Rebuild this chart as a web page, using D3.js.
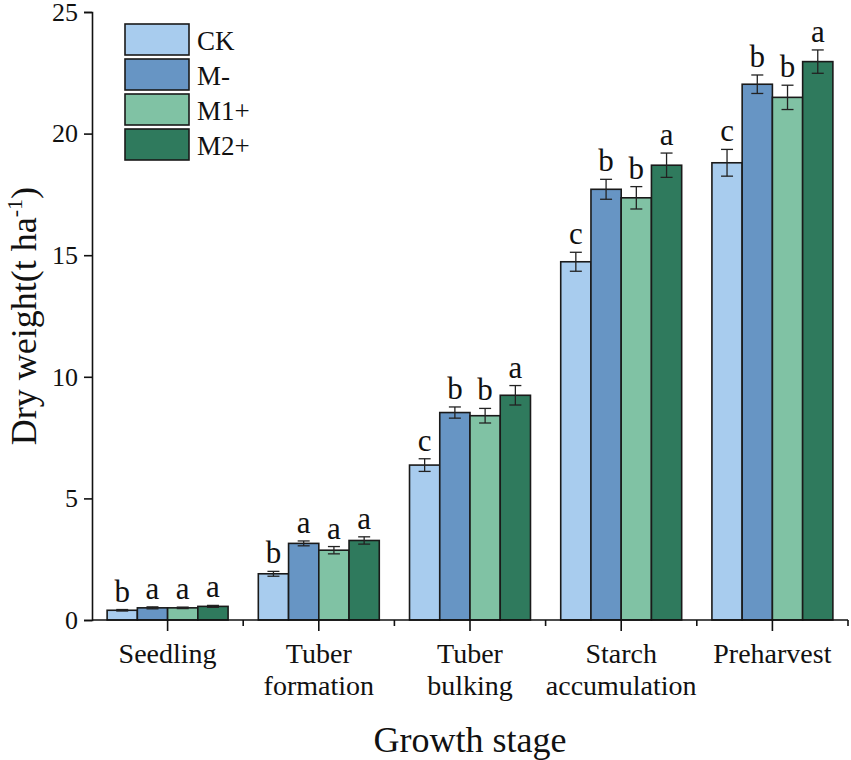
<!DOCTYPE html>
<html>
<head>
<meta charset="utf-8">
<script src="https://cdn.jsdelivr.net/npm/d3@7/dist/d3.min.js"></script>
<style>
  body { margin: 0; background: #fff; }
  text { font-family: "Liberation Serif", "Times New Roman", serif; fill: #111; }
</style>
</head>
<body>
<div id="chart"></div>
<script>
// growth stages (two-line labels)
const stages = ['Seedling', 'Tuber formation', 'Tuber bulking', 'Starch accumulation', 'Preharvest'];
const stageLines = [['Seedling'], ['Tuber', 'formation'], ['Tuber', 'bulking'], ['Starch', 'accumulation'], ['Preharvest']];
const treatments = ['CK', 'M-', 'M1+', 'M2+'];
const colors = ['#a8ccee', '#6795c4', '#80c2a4', '#2f7a5d'];

// dry weight (t/ha) per treatment, one value per stage
const ckValues = [0.40, 1.90, 6.37, 14.73, 18.80];
const mMinusValues = [0.50, 3.15, 8.53, 17.71, 22.03];
const m1Values = [0.50, 2.87, 8.40, 17.36, 21.49];
const m2Values = [0.56, 3.27, 9.24, 18.70, 22.96];

const ckErr = [0.03, 0.10, 0.26, 0.39, 0.55];
const mMinusErr = [0.04, 0.10, 0.23, 0.41, 0.38];
const m1Err = [0.03, 0.15, 0.30, 0.46, 0.50];
const m2Err = [0.04, 0.15, 0.40, 0.50, 0.48];

const ckLetters = ['b', 'b', 'c', 'c', 'c'];
const mMinusLetters = ['a', 'a', 'b', 'b', 'b'];
const m1Letters = ['a', 'a', 'b', 'b', 'b'];
const m2Letters = ['a', 'a', 'a', 'a', 'a'];

const yTicks = [0, 5, 10, 15, 20, 25];

const seriesValues = [ckValues, mMinusValues, m1Values, m2Values];
const seriesErr = [ckErr, mMinusErr, m1Err, m2Err];
const seriesLetters = [ckLetters, mMinusLetters, m1Letters, m2Letters];

const width = 851, height = 760;
const margin = { top: 12, right: 3, bottom: 140, left: 92 };

const svg = d3.select('#chart').append('svg')
  .attr('width', width)
  .attr('height', height);

const x = d3.scaleBand()
  .domain(stages)
  .range([margin.left, width - margin.right])
  .paddingInner(0)
  .paddingOuter(0);

const xInner = d3.scaleBand()
  .domain(treatments)
  .range([0, x.bandwidth()])
  .paddingOuter(0.5 * 0.2 / (1 - 0.2) * 4 / 4)
  .paddingInner(0);

// keep group width ~80% of band
xInner.range([x.bandwidth() * 0.1, x.bandwidth() * 0.9]).paddingOuter(0);

const y = d3.scaleLinear()
  .domain([0, 25])
  .range([height - margin.bottom, margin.top]);

// bars
const rows = [];
stages.forEach((s, i) => {
  treatments.forEach((t, j) => {
    rows.push({
      stage: s, treat: t, j: j,
      value: seriesValues[j][i],
      err: seriesErr[j][i],
      letter: seriesLetters[j][i]
    });
  });
});

const barG = svg.append('g');
barG.selectAll('rect')
  .data(rows)
  .enter()
  .append('rect')
  .attr('x', d => x(d.stage) + xInner(d.treat))
  .attr('y', d => y(d.value))
  .attr('width', xInner.bandwidth())
  .attr('height', d => y(0) - y(d.value))
  .attr('fill', d => colors[d.j])
  .attr('stroke', '#1a1a1a')
  .attr('stroke-width', 1.6);

// error bars
const capW = 12;
const errG = svg.append('g').attr('stroke', '#222').attr('stroke-width', 1.3);
rows.forEach(d => {
  const cx = x(d.stage) + xInner(d.treat) + xInner.bandwidth() / 2;
  const y1 = y(d.value + d.err), y2 = y(d.value - d.err);
  errG.append('line').attr('x1', cx).attr('x2', cx).attr('y1', y1).attr('y2', y2);
  errG.append('line').attr('x1', cx - capW / 2).attr('x2', cx + capW / 2).attr('y1', y1).attr('y2', y1);
  errG.append('line').attr('x1', cx - capW / 2).attr('x2', cx + capW / 2).attr('y1', y2).attr('y2', y2);
});

// significance letters
svg.append('g').selectAll('text')
  .data(rows)
  .enter()
  .append('text')
  .attr('x', d => x(d.stage) + xInner(d.treat) + xInner.bandwidth() / 2)
  .attr('y', d => y(d.value + d.err) - 8)
  .attr('text-anchor', 'middle')
  .style('font-size', '31px')
  .text(d => d.letter);

// y axis
const yAxis = d3.axisLeft(y).tickValues(yTicks).tickSize(8).tickPadding(6);
const yG = svg.append('g')
  .attr('transform', `translate(${margin.left},0)`)
  .call(yAxis);
yG.select('.domain').attr('stroke', '#111').attr('stroke-width', 1.6);
yG.selectAll('.tick line').attr('stroke', '#111').attr('stroke-width', 1.6);
yG.selectAll('.tick text').style('font-size', '26px').style('font-family', '"Liberation Serif", serif').attr('fill', '#111');

// x axis: major ticks at band centres, minor at band edges
const x0 = y(0);
const xG = svg.append('g');
xG.append('line')
  .attr('x1', margin.left).attr('x2', width - margin.right)
  .attr('y1', x0).attr('y2', x0)
  .attr('stroke', '#111').attr('stroke-width', 1.6);
stages.forEach(s => {
  const c = x(s) + x.bandwidth() / 2;
  xG.append('line').attr('x1', c).attr('x2', c).attr('y1', x0).attr('y2', x0 + 11)
    .attr('stroke', '#111').attr('stroke-width', 1.6);
  const e = x(s) + x.bandwidth();
  xG.append('line').attr('x1', e).attr('x2', e).attr('y1', x0).attr('y2', x0 + 6)
    .attr('stroke', '#111').attr('stroke-width', 1.6);
});

// category labels
stages.forEach((s, i) => {
  const t = xG.append('text')
    .attr('x', x(s) + x.bandwidth() / 2)
    .attr('y', x0 + 43)
    .attr('text-anchor', 'middle')
    .style('font-size', '28px');
  stageLines[i].forEach((line, k) => {
    t.append('tspan')
      .attr('x', x(s) + x.bandwidth() / 2)
      .attr('dy', k === 0 ? 0 : 32)
      .text(line);
  });
});

// axis titles
svg.append('text')
  .attr('x', (margin.left + width - margin.right) / 2)
  .attr('y', 752)
  .attr('text-anchor', 'middle')
  .style('font-size', '36px')
  .text('Growth stage');

const yTitle = svg.append('text')
  .attr('transform', `translate(36, ${(y(0) + y(25)) / 2}) rotate(-90)`)
  .attr('text-anchor', 'middle')
  .style('font-size', '36px');
yTitle.append('tspan').text('Dry weight(t ha');
yTitle.append('tspan').attr('dy', -14).style('font-size', '22px').text('-1');
yTitle.append('tspan').attr('dy', 14).text(')');

// legend
const legend = svg.append('g').attr('transform', 'translate(125, 24)');
treatments.forEach((t, j) => {
  const g = legend.append('g').attr('transform', `translate(0, ${j * 35})`);
  g.append('rect')
    .attr('width', 64).attr('height', 31)
    .attr('fill', colors[j])
    .attr('stroke', '#1a1a1a').attr('stroke-width', 1.6);
  g.append('text')
    .attr('x', 72).attr('y', 26)
    .style('font-size', '27px')
    .text(t);
});
</script>
</body>
</html>
